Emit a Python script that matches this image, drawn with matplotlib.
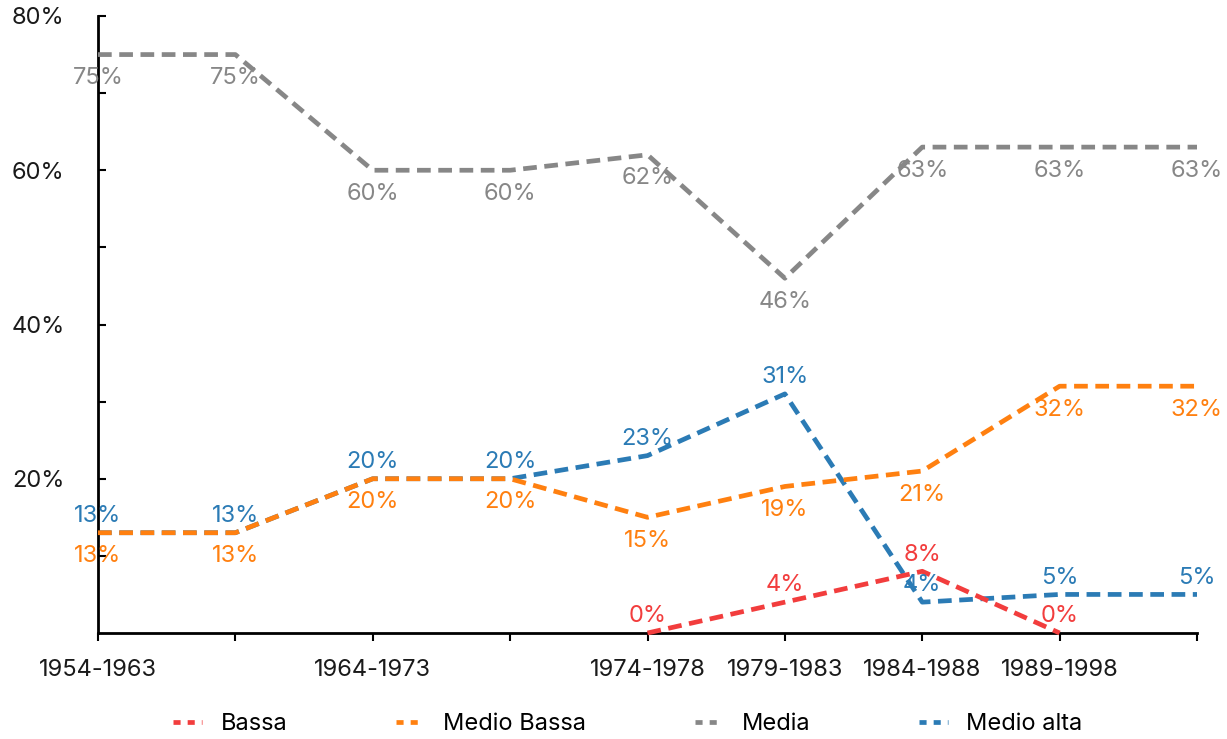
import numpy as np
import matplotlib
matplotlib.use("Agg")
import matplotlib.pyplot as plt
from matplotlib.lines import Line2D
from matplotlib.ticker import FixedLocator

# ─── DONNÉES ──────────────────────────────────────────────────────────────────
periodi = ["1954-1963", "", "1964-1973", "", "1974-1978", "1979-1983",
           "1984-1988", "1989-1998", ""]

bassa        = [np.nan, np.nan, np.nan, np.nan, 0, 4, 8, 0, np.nan]
medio_bassa  = [13, 13, 20, 20, 15, 19, 21, 32, 32]
media        = [75, 75, 60, 60, 62, 46, 63, 63, 63]
medio_alta   = [13, 13, 20, 20, 23, 31, 4, 5, 5]

# nome, valori, colore, posizione etichetta, zorder
serie = [
    ("Bassa",       bassa,       "#F23D3D", "above", 5),
    ("Medio Bassa", medio_bassa, "#FF8010", "below", 4),
    ("Media",       media,       "#878787", "below", 3),
    ("Medio alta",  medio_alta,  "#2B7BB5", "above", 2),
]

plt.rcParams["font.family"] = ["Inter", "DejaVu Sans"]

# ─── FIGURE ───────────────────────────────────────────────────────────────────
fig = plt.figure(figsize=(12.27, 7.39), dpi=100)
ax = fig.add_axes([98 / 1227, 1 - 633 / 739, (1197 - 98) / 1227, (633 - 16) / 739])

x = np.arange(len(periodi))
handles = []
for nome, valori, colore, pos, z in serie:
    ax.plot(x, valori, color=colore, lw=3.4, linestyle=(0, (2.9, 1.6)),
            clip_on=False, zorder=z)
    handles.append(Line2D([], [], color=colore, lw=3.4,
                          linestyle=(0, (1.5, 1.5)), label=nome))
    for xi, v in zip(x, valori):
        if np.isnan(v):
            continue
        dy = 12 if pos == "above" else -17
        ax.annotate(f"{v:.0f}%", (xi, v), xytext=(0, dy), textcoords="offset points",
                    ha="center", va="center", fontsize=17, color=colore, zorder=6)

ax.set_xlim(0, 8)
ax.set_ylim(0, 80)
ax.xaxis.set_major_locator(FixedLocator(x))
ax.set_xticklabels(periodi)
ax.set_yticks(np.arange(10, 81, 10))
ax.set_yticklabels([f"{v}%" if v % 20 == 0 else "" for v in range(10, 81, 10)])

for s in ["top", "right"]:
    ax.spines[s].set_visible(False)
ax.spines["left"].set_linewidth(2)
ax.spines["bottom"].set_linewidth(2)
ax.tick_params(axis="y", direction="in", length=6, width=1.5, pad=24,
               labelsize=17, labelcolor="#1a1a1a")
ax.tick_params(axis="x", direction="out", length=6, width=1.5, pad=13,
               labelsize=17, labelcolor="#1a1a1a")

fig.legend(handles=handles, loc="center", bbox_to_anchor=(628 / 1227, 1 - 724 / 739),
           ncol=4, frameon=False, fontsize=17, handlelength=1.2, handletextpad=0.8,
           columnspacing=4.6)

plt.savefig("out.png", dpi=100)
